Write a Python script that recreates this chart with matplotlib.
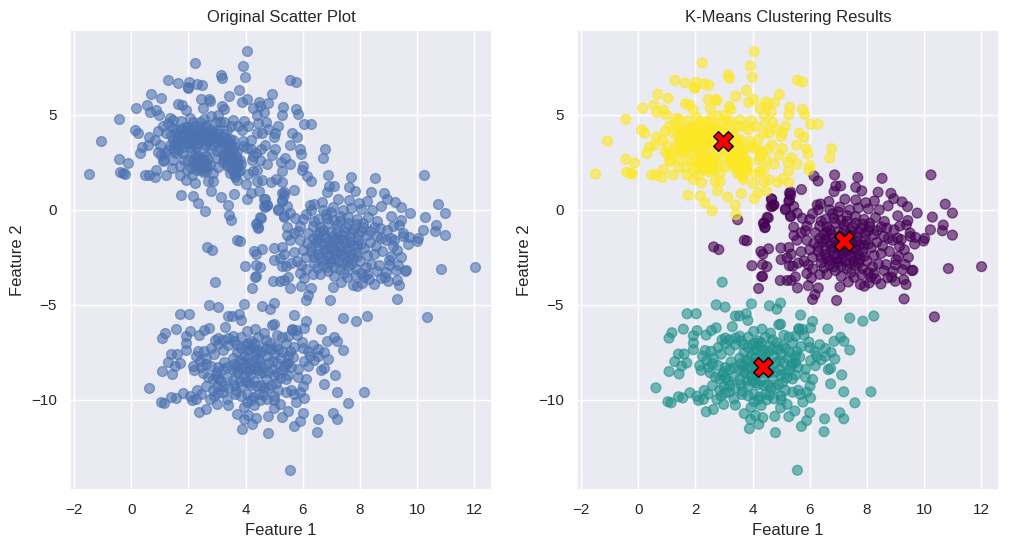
import numpy as np
import matplotlib.pyplot as plt
import seaborn as sns

sns.set_theme()
plt.rcParams["font.family"] = ["Liberation Sans", "DejaVu Sans"]

# Punkte pro Cluster (Feature 1, Feature 2)
upper_left = [
    (4.06, 8.34), (2.24, 7.73), (3.92, 7.57), (3.15, 7.10), (3.19, 6.92), (3.99, 6.98), (1.29, 6.82), (1.64, 6.68),
    (2.03, 6.71), (1.99, 6.40), (1.97, 6.45), (2.31, 6.63), (2.47, 6.56), (5.57, 6.82), (5.75, 6.73), (3.78, 6.29),
    (0.69, 6.08), (4.94, 6.08), (1.05, 5.87), (3.41, 5.98), (0.16, 5.35), (0.55, 5.52), (1.65, 5.58), (1.79, 5.54),
    (2.45, 5.82), (2.72, 5.82), (2.75, 5.75), (3.19, 5.45), (3.24, 5.31), (4.04, 5.82), (3.86, 5.66), (4.47, 5.68),
    (4.77, 5.65), (4.27, 5.35), (4.51, 5.47), (5.30, 5.40), (5.75, 5.30), (5.82, 5.03), (-0.43, 4.77), (0.12, 4.21),
    (0.23, 4.04), (-1.07, 3.62), (0.64, 3.83), (0.85, 3.69), (0.59, 3.43), (0.39, 3.30), (0.30, 2.97), (1.02, 3.39),
    (-0.43, 2.67), (-0.12, 2.47), (-1.49, 1.89), (-0.40, 1.98), (-0.21, 1.89), (-0.27, 1.92), (0.47, 1.84), (0.61, 1.84),
    (0.84, 1.71), (0.88, 2.12), (1.23, 1.84), (1.42, 2.22), (1.14, 2.60), (1.74, 0.77), (2.17, 0.73), (2.34, 0.37),
    (2.59, -0.05), (2.78, 1.00), (3.13, 0.68), (3.61, 0.86), (3.40, 0.26), (3.42, -0.25), (4.06, 0.59), (4.48, 1.00),
    (6.03, 4.51), (6.29, 4.51), (6.77, 3.22), (6.70, 2.73), (6.00, 2.33), (5.97, 2.10), (5.26, 2.05), (5.56, 2.41),
    (5.37, 2.73), (5.23, 2.52), (4.92, 2.88), (5.04, 3.22), (4.68, 3.43), (5.00, 3.86), (5.04, 4.07), (5.15, 4.41),
    (5.27, 5.00), (5.64, 4.04), (5.80, 3.83), (5.54, 3.41), (5.89, 3.22), (5.94, 2.94), (4.88, 1.45), (5.06, 1.64),
    (5.28, 1.45), (4.27, 2.82), (4.21, 2.65), (4.39, 2.12), (4.27, 2.03), (4.57, 1.59), (4.39, 1.50), (4.03, 1.38),
    (4.19, 0.89), (3.69, 1.59), (3.63, 1.84), (3.75, 2.29), (3.34, 2.29), (3.22, 2.91), (3.46, 3.16), (3.92, 3.35),
    (4.39, 4.04), (4.57, 4.04), (3.87, 4.21), (3.57, 4.73), (3.10, 4.65), (2.79, 4.95), (2.52, 5.35), (1.93, 5.26),
    (1.35, 4.82), (0.98, 5.00), (0.88, 5.26), (0.65, 5.14), (1.29, 4.56), (1.23, 4.04), (1.58, 4.21), (1.87, 4.38),
    (2.17, 4.65), (2.40, 4.65), (2.63, 4.47), (1.70, 3.87), (1.46, 3.69), (1.93, 3.69), (2.28, 3.69), (2.63, 3.87),
    (2.99, 4.21), (3.34, 4.21), (2.63, 3.43), (3.22, 3.51), (3.57, 3.69), (1.58, 2.99), (1.82, 2.99), (2.22, 2.90),
    (2.63, 2.82), (2.99, 2.73), (1.11, 2.56), (1.70, 2.29), (2.28, 2.47), (2.46, 2.12), (2.63, 2.05), (2.87, 1.96),
    (2.87, 1.50), (2.69, 1.50), (2.22, 1.42), (1.93, 1.59), (1.70, 1.84), (2.11, 1.84), (3.69, 2.45), (3.81, 2.10),
    (3.63, 1.75), (2.05, 4.05), (2.15, 3.95), (2.30, 4.10), (2.45, 4.00), (2.55, 3.70), (2.70, 3.60), (1.75, 3.55),
    (1.60, 3.75), (1.90, 4.20), (2.75, 4.20), (2.90, 3.95), (3.05, 3.80), (3.25, 4.00), (3.45, 3.75), (3.70, 3.10),
    (3.50, 2.90), (3.40, 2.60), (3.60, 2.40), (3.80, 2.60), (3.20, 2.50), (3.00, 3.10), (2.20, 2.40), (2.40, 2.55),
    (2.50, 2.30), (2.30, 2.10), (2.60, 2.40), (2.10, 3.10), (1.80, 3.30), (1.50, 3.45), (1.40, 3.95), (2.00, 3.50),
    (3.60, 3.30), (3.75, 2.00), (3.55, 2.05), (4.55, 3.20), (4.35, 3.00), (2.25, 3.30), (2.80, 3.20), (4.70, 4.60),
    # dichter Kern, geschaetzt
    (1.45, 4.30), (1.55, 4.05), (1.65, 3.60), (1.75, 4.25), (1.85, 3.85), (1.95, 4.35), (2.00, 3.95), (2.05, 3.65),
    (2.10, 4.30), (2.20, 3.80), (2.25, 4.40), (2.35, 3.85), (2.40, 4.25), (2.50, 4.15), (2.55, 3.95), (2.60, 4.35),
    (2.65, 3.75), (2.70, 4.05), (2.80, 3.75), (2.85, 4.10), (2.95, 3.60), (3.05, 4.05), (3.15, 3.65), (3.20, 3.85),
    (3.30, 3.40), (3.35, 3.70), (3.40, 3.10), (3.50, 3.45), (3.55, 3.10), (3.65, 2.85), (3.45, 2.75), (3.30, 2.95),
    (3.35, 2.40), (3.50, 2.20), (3.55, 2.60), (3.65, 2.20), (3.70, 2.70), (3.25, 2.75), (3.85, 2.40), (3.45, 1.95),
    (2.25, 2.75), (2.30, 2.35), (2.35, 2.85), (2.40, 2.20), (2.45, 2.70), (2.50, 2.00), (2.55, 2.60), (2.15, 2.60),
    (2.10, 2.20), (2.65, 2.25), (2.70, 2.70), (2.75, 2.35), (1.50, 3.15), (1.60, 3.40), (1.65, 3.15), (1.85, 3.55),
    (1.35, 3.40), (1.30, 3.15), (2.05, 3.30), (2.15, 3.45), (2.35, 3.45), (2.50, 3.20), (2.85, 3.40), (3.10, 3.25),
    (3.90, 3.60), (4.05, 3.25), (4.20, 3.70), (4.10, 4.40), (3.95, 4.70), (3.75, 4.40), (3.50, 4.40), (3.25, 4.65),
    (2.95, 4.60), (2.55, 4.80), (2.05, 4.85), (1.75, 4.70), (1.45, 4.75), (1.10, 4.40), (0.95, 4.15), (3.05, 5.00),
    (4.45, 4.55), (4.80, 4.25), (4.40, 5.00), (4.65, 5.15), (4.20, 3.20), (4.50, 2.60), (4.75, 2.40), (4.10, 1.90),
    (0.95, 3.05), (1.20, 3.00), (1.05, 2.90), (1.45, 2.65), (1.85, 2.60), (1.95, 2.10), (2.00, 2.65), (3.05, 2.25),
]

right_side = [
    (3.48, -0.52), (3.71, -1.60), (2.64, -1.95), (2.82, -2.09), (4.51, -0.39), (4.40, -0.68), (4.44, -0.91), (4.67, 0.58),
    (4.74, 0.26), (4.65, 0.19), (5.15, 0.00), (5.33, -0.33), (6.15, 1.78), (6.29, 1.52), (6.87, 1.84), (5.71, 1.07),
    (5.33, 0.94), (5.27, 0.45), (5.44, 0.19), (5.33, 0.77), (10.24, 1.84), (8.53, 1.66), (7.68, 1.71), (10.74, 0.30),
    (10.99, -0.17), (10.29, -0.38), (10.67, -0.80), (10.64, -1.10), (10.22, -1.05), (10.99, -1.33), (10.02, -1.50), (9.98, -1.64),
    (9.76, -0.17), (9.42, 0.17), (9.23, 0.42), (8.94, 0.59), (8.84, 0.87), (8.39, 0.93), (8.74, 0.21), (9.08, -0.31),
    (9.43, -0.56), (9.38, -0.79), (9.51, -1.22), (9.52, -1.40), (9.67, -1.80), (12.01, -2.99), (10.85, -3.09), (10.36, -5.63),
    (9.30, -4.69), (9.37, -3.93), (9.29, -3.67), (9.61, -3.18), (9.57, -3.20), (9.34, -2.88), (8.67, -2.88), (8.49, -3.90),
    (8.99, -3.76), (8.73, -3.58), (8.87, -3.55), (8.32, -3.64), (8.24, -3.36), (8.08, -3.85), (7.91, -4.02), (7.77, -3.93),
    (7.82, -3.41), (7.06, -4.06), (6.94, -4.77), (6.30, -4.11), (6.10, -4.72), (6.18, -4.46), (5.95, -3.99), (5.57, -4.11),
    (6.06, -3.58), (5.50, -3.53), (4.97, -3.72), (5.21, -3.72), (5.35, -3.71), (4.21, -4.14), (4.35, -3.50), (4.32, -3.51),
    (3.98, -2.94), (4.35, -2.88), (4.50, -2.99), (4.29, -2.19), (4.36, -2.33), (4.56, -2.05), (4.99, -2.01), (5.00, -2.62),
    (5.27, -1.98), (5.21, -2.53), (5.35, -2.33), (5.29, -2.94), (5.41, -2.97), (4.38, -0.73), (4.43, -0.94), (4.55, -0.42),
    (3.80, -1.63), (5.29, 0.87), (5.29, 0.52), (5.15, 0.05), (4.68, 0.17), (4.75, 0.26), (4.66, 0.56), (5.33, -0.35),
    (5.56, -0.17), (5.74, -0.44), (5.44, -0.91), (6.26, 0.26), (6.38, 0.31), (6.67, 0.44), (6.85, 0.96), (6.91, 1.26),
    (7.08, 1.26), (7.61, 1.19), (7.82, 1.00), (7.23, 0.56), (7.61, 0.52), (7.96, 0.38), (8.26, 0.47), (8.43, 0.00),
    (8.61, -0.61), (8.70, -0.96), (9.08, -1.49), (9.20, -1.57), (8.79, -2.19), (9.02, -2.63), (9.14, -1.92), (9.31, -2.10),
    (6.80, -0.20), (7.00, -0.10), (7.30, -0.30), (7.60, -0.35), (7.90, -0.50), (8.10, -0.70), (6.40, -0.60), (6.60, -0.90),
    (6.90, -0.70), (7.20, -0.80), (7.50, -0.90), (7.80, -1.00), (8.05, -1.10), (8.25, -1.30), (6.20, -1.20), (6.50, -1.30),
    (6.75, -1.25), (7.05, -1.40), (7.35, -1.30), (7.65, -1.45), (7.95, -1.60), (5.90, -1.60), (6.15, -1.75), (6.45, -1.70),
    (6.70, -1.80), (7.00, -1.95), (7.30, -1.90), (7.60, -2.05), (7.85, -2.20), (8.15, -2.00), (6.30, -2.20), (6.55, -2.35),
    (6.85, -2.40), (7.15, -2.30), (7.45, -2.45), (7.75, -2.60), (8.00, -2.70), (6.40, -2.80), (6.70, -2.90), (7.00, -2.75),
    (7.30, -3.10), (7.60, -2.95), (7.85, -3.10), (6.10, -3.10), (5.80, -2.70), (5.70, -2.20), (5.55, -1.60), (5.85, -1.10),
    (6.00, -0.50), (6.30, 0.00), (7.40, 0.00), (8.35, -1.70), (8.50, -2.30), (8.20, -3.00), (6.60, -3.40), (7.10, -3.50),
    (6.90, -3.20), (7.55, -3.55), (8.60, -1.40), (8.90, -1.60), (9.00, -2.90), (9.25, -3.15), (6.10, -2.50), (5.95, -2.90),
    # dichter Kern, geschaetzt
    (6.35, -0.85), (6.55, -0.50), (6.70, -1.05), (6.85, -0.45), (7.00, -1.15), (7.10, -0.55), (7.20, -1.10), (7.30, -0.60),
    (7.45, -1.15), (7.60, -0.70), (7.70, -1.20), (7.85, -0.75), (7.95, -1.25), (8.10, -0.90), (6.35, -1.50), (6.55, -1.55),
    (6.60, -1.15), (6.80, -1.50), (6.90, -1.70), (7.05, -1.65), (7.15, -1.55), (7.25, -1.65), (7.40, -1.60), (7.50, -1.75),
    (7.65, -1.70), (7.75, -1.85), (7.90, -1.85), (8.05, -1.80), (6.30, -1.95), (6.55, -2.00), (6.75, -2.10), (6.85, -2.00),
    (7.10, -2.10), (7.20, -2.15), (7.35, -2.15), (7.50, -2.25), (7.70, -2.35), (7.90, -2.45), (6.40, -2.50), (6.60, -2.55),
    (6.75, -2.65), (6.95, -2.55), (7.10, -2.60), (7.25, -2.70), (7.40, -2.80), (7.55, -2.70), (7.70, -2.85), (6.50, -3.05),
    (6.85, -3.00), (7.10, -3.00), (7.45, -3.30), (8.05, -3.30), (8.25, -2.40), (8.35, -1.10), (8.50, -0.90), (8.55, -1.90),
    (8.75, -1.50), (8.95, -1.05), (9.15, -0.85), (8.30, -0.40), (8.05, 0.05), (7.70, 0.10), (7.05, 0.15), (6.70, 0.00),
    (6.10, -0.20), (5.90, -0.85), (5.70, -1.20), (5.45, -1.35), (6.00, -2.10), (5.60, -2.80), (5.90, -3.35), (6.35, -3.40),
    (8.40, -2.85), (8.60, -3.20), (8.90, -3.25), (9.10, -2.45), (9.45, -2.50), (9.70, -1.45), (8.15, -3.55), (7.35, -3.80),
]

bottom = [
    (2.94, -3.81),
    (5.57, -13.71), (4.80, -11.73), (3.89, -11.52), (4.22, -11.29), (3.93, -11.03), (3.71, -10.73), (4.10, -10.82), (4.36, -10.94),
    (4.78, -10.87), (5.27, -10.89), (5.71, -11.40), (5.89, -11.10), (6.00, -10.68), (6.50, -11.68), (6.52, -11.00), (7.05, -10.68),
    (7.19, -11.00), (7.58, -10.16), (8.14, -9.58), (7.19, -9.58), (6.73, -9.16), (7.12, -8.69), (7.40, -7.38), (7.40, -5.70),
    (7.86, -5.86), (8.24, -5.59), (6.63, -6.28), (5.68, -5.54), (6.10, -5.87), (6.03, -6.22), (3.96, -4.95),
    (2.73, -5.00), (3.04, -5.12), (4.59, -5.05), (4.98, -4.91), (4.85, -5.23), (1.71, -5.47), (2.03, -5.47), (3.40, -5.59),
    (3.54, -5.58), (3.78, -5.47), (3.84, -5.82), (3.29, -6.15), (1.58, -6.28), (1.18, -6.47), (1.08, -6.75), (2.06, -6.36),
    (1.93, -6.63), (2.38, -6.59), (2.56, -6.35), (2.73, -6.21), (1.93, -7.01), (1.93, -7.36), (2.34, -7.41), (1.41, -7.59),
    (1.61, -7.59), (1.28, -7.99), (1.70, -8.06), (1.52, -8.23), (1.08, -8.51), (1.43, -8.64), (0.62, -9.37), (1.04, -10.10),
    (1.15, -10.16), (1.41, -9.84), (1.56, -9.90), (1.81, -9.63), (2.05, -9.81), (2.11, -10.03), (2.31, -9.51), (2.28, -9.98),
    (2.38, -10.63), (2.63, -10.51), (2.99, -10.24), (3.40, -10.28), (3.63, -9.72), (2.75, -9.98), (2.52, -8.58), (2.63, -7.80),
    (2.93, -6.84), (3.40, -6.75), (4.98, -10.42), (5.21, -10.24), (5.48, -10.59), (5.76, -10.12), (6.03, -9.90), (5.68, -9.72),
    (6.01, -9.28), (6.10, -8.93), (6.55, -7.71), (6.88, -7.85), (6.65, -8.41), (6.73, -8.35), (7.20, -6.92), (7.08, -6.71),
    (6.85, -6.92), (6.35, -7.10), (6.18, -7.45), (5.97, -6.96), (5.62, -6.31), (6.03, -7.94), (4.92, -6.05), (4.98, -6.02),
    (5.27, -6.70), (4.33, -6.28), (4.04, -6.40), (4.63, -6.49), (5.62, -6.25), (5.75, -6.30), (3.05, -6.75), (3.60, -6.90),
    (4.10, -7.00), (4.25, -7.20), (4.05, -7.40), (3.70, -7.50), (3.55, -7.80), (4.60, -7.20), (4.85, -7.00), (5.15, -7.30),
    (5.40, -7.00), (5.55, -7.45), (5.70, -7.20), (3.25, -8.00), (3.05, -8.30), (2.80, -8.20), (2.95, -8.70), (3.15, -9.00),
    (3.00, -9.30), (2.85, -9.50), (3.20, -9.60), (3.35, -8.80), (3.70, -8.20), (3.90, -8.00), (4.10, -7.80), (4.35, -7.60),
    (4.50, -8.00), (4.75, -7.70), (5.00, -7.60), (5.25, -7.80), (5.40, -8.10), (5.60, -8.30), (5.85, -8.40), (3.75, -8.60),
    (3.95, -8.80), (4.20, -8.40), (4.40, -8.20), (4.15, -8.70), (4.50, -8.60), (4.70, -8.90), (4.95, -8.40), (5.15, -8.60),
    (5.35, -8.20), (5.50, -8.70), (3.85, -9.30), (4.10, -9.10), (4.30, -9.00), (4.55, -9.20), (4.80, -9.40), (5.05, -9.10),
    (3.60, -9.20), (3.40, -9.40), (4.05, -9.70), (4.25, -9.85), (4.50, -10.00), (4.75, -9.95), (5.00, -9.80), (5.00, -10.00),
    (4.05, -10.10), (3.95, -10.40), (4.30, -10.30), (2.60, -8.10), (2.45, -8.30), (2.20, -8.45), (2.70, -8.80), (2.90, -7.60),
    (3.20, -7.40), (3.40, -7.10), (4.20, -6.90), (4.45, -6.70), (4.70, -6.85), (5.60, -9.50), (6.20, -8.20), (6.40, -7.90),
    # dichter Kern, geschaetzt
    (3.70, -7.10), (3.85, -7.25), (4.00, -7.10), (4.15, -7.35), (4.30, -7.00), (4.40, -7.40), (4.55, -7.50), (4.70, -7.35),
    (4.90, -7.35), (5.05, -7.15), (5.30, -7.50), (5.50, -7.70), (5.65, -7.75), (3.60, -8.10), (3.80, -7.90), (3.95, -7.70),
    (4.15, -8.05), (4.30, -7.90), (4.45, -7.80), (4.60, -8.25), (4.80, -8.05), (4.95, -7.95), (5.10, -8.05), (5.30, -8.45),
    (5.50, -8.05), (3.55, -8.40), (3.70, -8.50), (3.85, -8.35), (4.00, -8.30), (4.10, -8.50), (4.30, -8.35), (4.45, -8.45),
    (4.60, -8.55), (4.80, -8.55), (5.00, -8.70), (5.20, -8.85), (5.40, -8.90), (3.55, -8.95), (3.80, -9.00), (4.00, -9.00),
    (4.20, -9.20), (4.40, -9.25), (4.65, -9.40), (4.90, -9.20), (5.15, -9.50), (3.20, -8.40), (3.35, -8.30), (3.00, -8.55),
    (2.85, -8.90), (3.05, -8.85), (3.20, -9.25), (3.05, -9.65), (2.90, -9.80), (3.35, -9.95), (3.65, -9.55), (3.85, -9.80),
    (4.20, -10.00), (4.45, -9.70), (4.60, -9.75), (2.40, -7.95), (2.15, -8.20), (2.25, -7.70), (2.55, -7.45), (2.80, -7.25),
    (3.05, -7.05), (3.20, -6.85), (3.55, -6.65), (3.85, -6.70), (5.10, -6.60), (5.50, -6.65), (5.80, -6.60), (6.00, -7.25),
    (6.25, -7.70), (6.55, -7.30), (6.75, -7.50), (5.85, -8.80), (5.90, -9.60), (5.40, -9.60), (2.60, -9.25), (2.45, -9.70),
]

# Zentren aus K-Means
centers_x = [7.20, 4.35, 2.95]
centers_y = [-1.65, -8.30, 3.60]

points = np.array(right_side + bottom + upper_left)
labels = np.array([0] * len(right_side) + [1] * len(bottom) + [2] * len(upper_left))

fig = plt.figure(figsize=(10.09, 5.5), dpi=100)
ax1 = fig.add_axes([70 / 1009, 60 / 550, 422 / 1009, 460 / 550])
ax2 = fig.add_axes([577 / 1009, 60 / 550, 422 / 1009, 460 / 550])

# Originaldaten
ax1.scatter(points[:, 0], points[:, 1], s=50, alpha=0.6)
ax1.set_title("Original Scatter Plot")
ax1.set_xlabel("Feature 1")
ax1.set_ylabel("Feature 2")

# Clusterergebnis
ax2.scatter(points[:, 0], points[:, 1], c=labels, cmap="viridis", s=50, alpha=0.6)
ax2.scatter(centers_x, centers_y, c="red", s=200, marker="X", edgecolors="black")
ax2.set_title("K-Means Clustering Results")
ax2.set_xlabel("Feature 1")
ax2.set_ylabel("Feature 2")

for ax in (ax1, ax2):
    ax.set_xlim(-2.14, 12.62)
    ax.set_ylim(-14.75, 9.47)
    ax.set_xticks([-2, 0, 2, 4, 6, 8, 10, 12])
    ax.set_yticks([-10, -5, 0, 5])

fig.savefig("out.png", dpi=100)
